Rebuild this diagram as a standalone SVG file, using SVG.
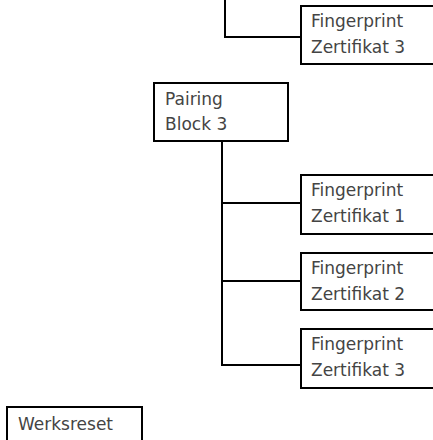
<svg xmlns="http://www.w3.org/2000/svg" width="433" height="440" viewBox="0 0 433 440">
<style>
.box{fill:#fff;stroke:#000;stroke-width:2}
.ln{fill:none;stroke:#000;stroke-width:2}
text{font-family:"DejaVu Sans","Liberation Sans",sans-serif;font-size:17px;fill:#444}
</style>
<rect width="433" height="440" fill="#fff"/>
<g id="connectors">
<path class="ln" d="M225 0V37H301"/>
<path class="ln" d="M222 141V365H301M222 203H301M222 281H301"/>
</g>
<g id="fp3top">
<rect class="box" x="301" y="6" width="140" height="58"/>
<text x="311" y="27">Fingerprint</text>
<text x="311" y="53">Zertifikat 3</text>
</g>
<g id="pairing">
<rect class="box" x="154" y="83" width="134" height="58"/>
<text x="165" y="105">Pairing</text>
<text x="165" y="130">Block 3</text>
</g>
<g id="fp1">
<rect class="box" x="301" y="175" width="140" height="59"/>
<text x="311" y="196">Fingerprint</text>
<text x="311" y="222">Zertifikat 1</text>
</g>
<g id="fp2">
<rect class="box" x="301" y="253" width="140" height="57"/>
<text x="311" y="274">Fingerprint</text>
<text x="311" y="300">Zertifikat 2</text>
</g>
<g id="fp3">
<rect class="box" x="301" y="329" width="140" height="59"/>
<text x="311" y="350">Fingerprint</text>
<text x="311" y="376">Zertifikat 3</text>
</g>
<g id="werksreset">
<rect class="box" x="7" y="407" width="135" height="40"/>
<text x="18" y="430">Werksreset</text>
</g>
</svg>
